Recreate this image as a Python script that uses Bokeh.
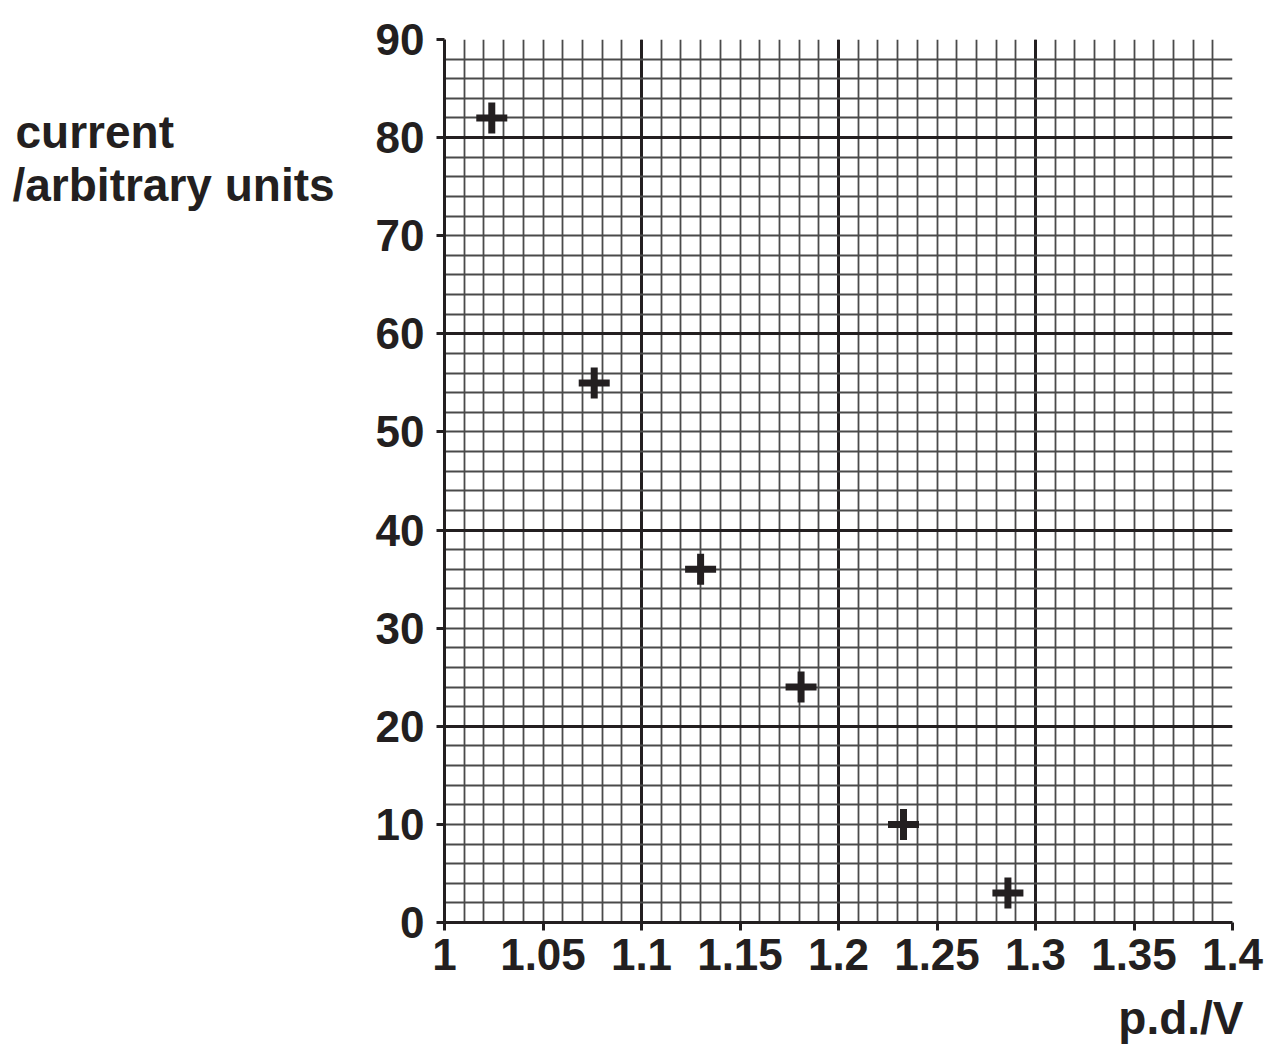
import numpy as np
from bokeh.plotting import figure
from bokeh.models import FixedTicker, Range1d, Title
from bokeh.layouts import row
from bokeh.core.properties import value
from bokeh.embed import file_html
from bokeh.resources import INLINE

# data
pd_volts = [1.024, 1.076, 1.130, 1.181, 1.233, 1.286]
current = [82, 55, 36, 24, 10, 3]

x_tick_values = [1.0, 1.05, 1.1, 1.15, 1.2, 1.25, 1.3, 1.35, 1.4]
x_tick_labels = ["1", "1.05", "1.1", "1.15", "1.2", "1.25", "1.3", "1.35", "1.4"]
y_tick_values = [0, 10, 20, 30, 40, 50, 60, 70, 80, 90]
y_tick_labels = ["0", "10", "20", "30", "40", "50", "60", "70", "80", "90"]

x_label = "p.d./V"
y_label_lines = ["current", "/arbitrary units"]

INK = "#231f20"
FONT = "Liberation Sans"
H = 1053
LEFT_W = 360
TOP = 39
FRAME_H = 883
BOTTOM = H - TOP - FRAME_H

# ---- main chart ----
p = figure(
    frame_width=788, frame_height=FRAME_H,
    min_border_left=444 - LEFT_W, min_border_right=38,
    min_border_top=TOP, min_border_bottom=BOTTOM,
    x_range=Range1d(1.0, 1.4), y_range=Range1d(0, 90),
    output_backend="svg", toolbar_location=None,
)
p.outline_line_color = None
p.background_fill_color = "white"
p.border_fill_color = "white"

# grids
p.xgrid.ticker = FixedTicker(ticks=[1.1, 1.2, 1.3, 1.4],
                             minor_ticks=list(np.round(np.arange(1.0, 1.4001, 0.01), 2)))
p.ygrid.ticker = FixedTicker(ticks=[20, 40, 60, 80],
                             minor_ticks=list(np.arange(0, 91, 2)))
for g in (p.xgrid, p.ygrid):
    g.grid_line_color = INK
    g.grid_line_width = 3
    g.minor_grid_line_color = "#4a4a4a"
    g.minor_grid_line_width = 1.8

# axes
p.xaxis.ticker = FixedTicker(ticks=x_tick_values)
p.xaxis.major_label_overrides = {v: s for v, s in zip(x_tick_values, x_tick_labels)}
p.yaxis.ticker = FixedTicker(ticks=y_tick_values)
p.yaxis.major_label_overrides = {v: s for v, s in zip(y_tick_values, y_tick_labels)}
for ax in (p.xaxis, p.yaxis):
    ax.axis_line_color = INK
    ax.axis_line_width = 3
    ax.major_tick_line_color = INK
    ax.major_tick_line_width = 3
    ax.major_tick_out = 8
    ax.major_tick_in = 0
    ax.minor_tick_line_color = None
    ax.major_label_text_font = FONT
    ax.major_label_text_font_style = "bold"
    ax.major_label_text_font_size = "44px"
    ax.major_label_text_color = INK
p.xaxis.major_label_standoff = 8
p.yaxis.major_label_standoff = 12

# x-axis title, right aligned below the tick labels
p.add_layout(Title(text=x_label, align="right", offset=-11, standoff=34,
                   text_font=FONT, text_font_style="bold", text_font_size="46px",
                   text_color=INK), "below")

# points
p.scatter(pd_volts, current, marker="cross", size=31, line_width=7,
          line_color=INK)

# ---- left panel holding the horizontal y-axis title (shares the y scale) ----
lab = figure(width=LEFT_W, height=H, x_range=Range1d(0, LEFT_W), y_range=p.y_range,
             x_axis_type=None, y_axis_type=None,
             min_border_left=0, min_border_right=0,
             min_border_top=TOP, min_border_bottom=BOTTOM,
             output_backend="svg", toolbar_location=None)
lab.grid.visible = False
lab.outline_line_color = None
lab.text(x=[15, 12], y=[80.5, 75.1], text=y_label_lines, text_font=value(FONT),
         text_font_style="bold", text_font_size="46px", text_color=INK,
         text_baseline="alphabetic", text_align="left")

open("out.html", "w").write(file_html(row(lab, p), INLINE))
